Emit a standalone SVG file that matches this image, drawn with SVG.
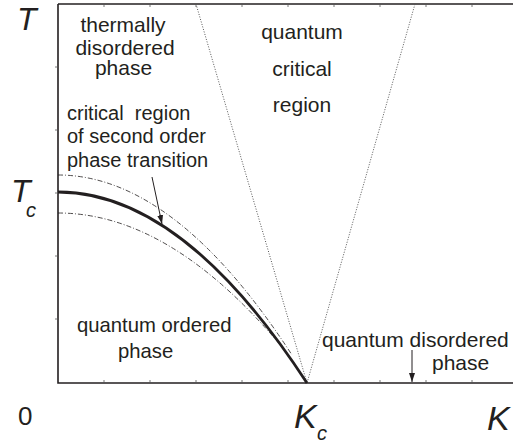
<svg xmlns="http://www.w3.org/2000/svg" width="513" height="444" viewBox="0 0 513 444">
<style>
.lbl{font-family:"Liberation Sans",Arial,sans-serif;font-size:20px;fill:#231f20}
.big{font-size:21px}
.ax{font-family:"Liberation Sans",Arial,sans-serif;font-style:italic;fill:#231f20}
.axis{stroke:#231f20;stroke-width:1.6;fill:none}
.tick{stroke:#555;stroke-width:0.8}
.dot{stroke:#555;stroke-width:1;stroke-dasharray:1 1.6;fill:none}
.dd{stroke:#231f20;stroke-width:0.8;stroke-dasharray:5 2 1 2;fill:none}
.thick{stroke:#231f20;stroke-width:2.8;fill:none}
.arr{stroke:#231f20;stroke-width:1;fill:none}
</style>
<defs>
<marker id="ah" markerWidth="10" markerHeight="8" refX="9" refY="4" orient="auto" markerUnits="userSpaceOnUse">
<path d="M0,1 L9,4 L0,7 Z" fill="#231f20"/>
</marker>
</defs>
<g id="axes">
<path class="axis" d="M58,4 V383 H513"/>
<path class="axis" d="M58,4 H513" stroke-width="1.2"/>
<g class="tick">
<path d="M55,67 h3 M55,130 h3 M55,193 h3 M55,256 h3 M55,319 h3"/>
<path d="M104,383 v-3 M150,383 v-3 M196,383 v-3 M242,383 v-3 M288,383 v-3 M334,383 v-3 M380,383 v-3 M426,383 v-3 M472,383 v-3"/>
<path d="M104,4 v3 M150,4 v3 M196,4 v3 M242,4 v3 M288,4 v3 M334,4 v3 M380,4 v3 M426,4 v3 M472,4 v3"/>
</g>
</g>
<g id="connectors">
<path class="dot" d="M196,4 L307,383 L415,4"/>
<path class="dd" d="M58,175 Q175,175 292,355"/>
<path class="dd" d="M58,213 Q172.5,213 287,353"/>
<path class="thick" d="M58,192 Q182.5,192 307,383"/>
<path class="arr" d="M152,177 L162,224" marker-end="url(#ah)"/>
<path class="arr" d="M412,350 L412,382" marker-end="url(#ah)"/>
</g>
<g id="axis-labels">
<text class="ax" x="17" y="30" font-size="32">T</text>
<text class="ax" x="11" y="202" font-size="32">T</text>
<text class="ax" x="26" y="217" font-size="20">c</text>
<text x="18" y="425" font-family="Liberation Sans,Arial,sans-serif" font-size="26" fill="#231f20">0</text>
<text class="ax" x="294" y="428" font-size="34">K</text>
<text class="ax" x="317" y="440" font-size="20">c</text>
<text class="ax" x="487" y="430" font-size="34">K</text>
</g>
<g id="thermal">
<text class="lbl big" text-anchor="middle" x="123" y="32">thermally</text>
<text class="lbl big" text-anchor="middle" x="125" y="55">disordered</text>
<text class="lbl big" text-anchor="middle" x="123.5" y="75">phase</text>
</g>
<g id="critical-region">
<text class="lbl" x="67" y="120" xml:space="preserve">critical  region</text>
<text class="lbl" x="67" y="143">of second order</text>
<text class="lbl" x="67" y="167">phase transition</text>
</g>
<g id="quantum-critical">
<text class="lbl big" text-anchor="middle" x="302" y="39">quantum</text>
<text class="lbl big" text-anchor="middle" x="302" y="76">critical</text>
<text class="lbl big" text-anchor="middle" x="302" y="112">region</text>
</g>
<g id="quantum-ordered">
<text class="lbl" x="77" y="332" style="font-size:20.3px">quantum ordered</text>
<text class="lbl" x="118" y="358" style="font-size:20.3px">phase</text>
</g>
<g id="quantum-disordered">
<text class="lbl big" x="322" y="347">quantum disordered</text>
<text class="lbl big" x="432" y="370">phase</text>
</g>
</svg>
